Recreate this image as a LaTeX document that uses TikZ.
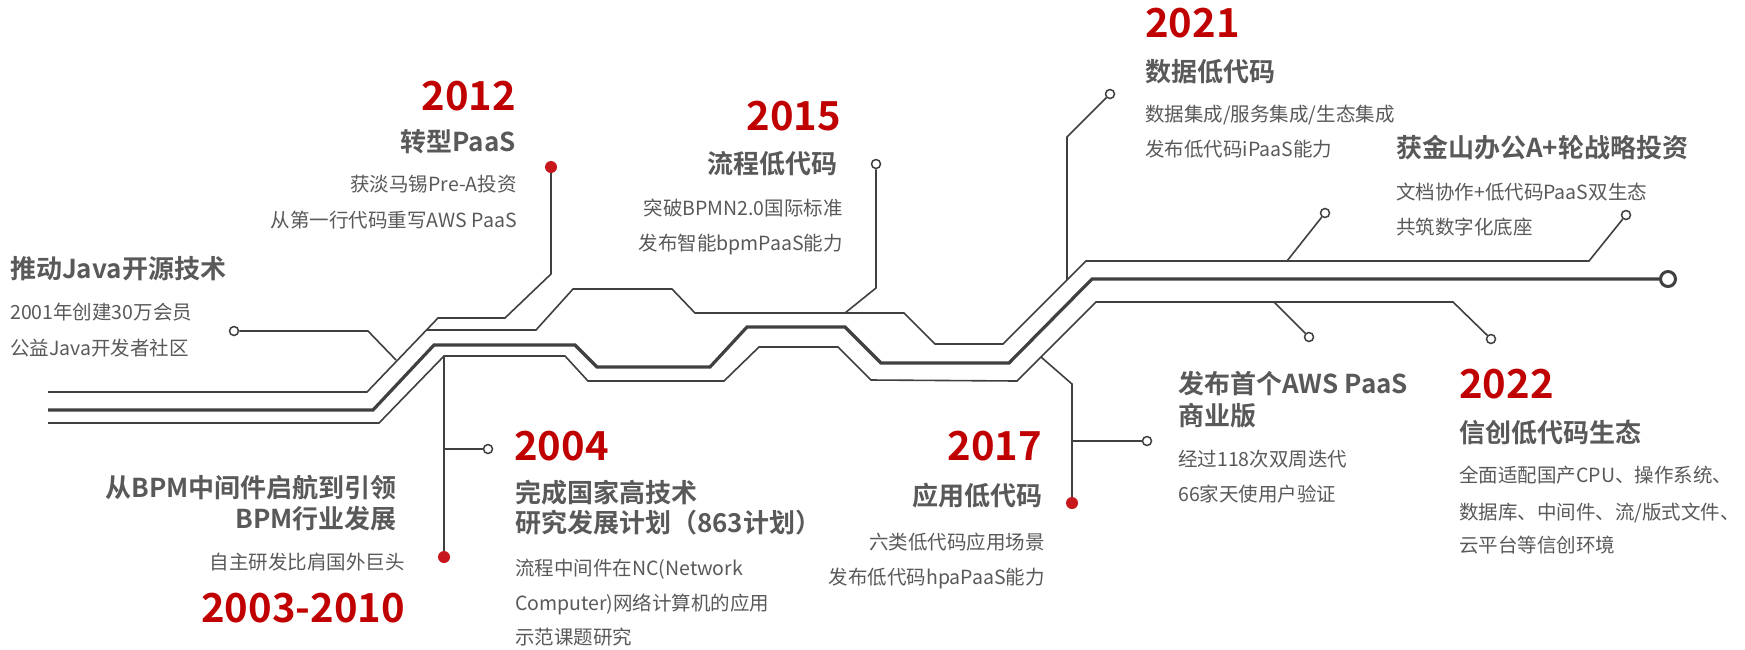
\documentclass[tikz,border=0pt]{standalone}
\usepackage{fontspec}
\setmainfont{Noto Sans CJK SC}[BoldFont={Noto Sans CJK SC Bold}]
\usepackage{xcolor}
\usepackage{tikz}
\usetikzlibrary{positioning}
\definecolor{tracegray}{RGB}{64,64,64}
\definecolor{textgray}{RGB}{89,89,89}
\definecolor{yearred}{RGB}{192,0,0}
\definecolor{dotred}{RGB}{200,22,29}

\begin{document}
\begin{tikzpicture}[
    x=1pt, y=-1pt,
    yeartext/.style={font=\bfseries\fontsize{40}{48}\selectfont, text=yearred, inner sep=0pt},
    headtext/.style={font=\bfseries\fontsize{26}{31}\selectfont, text=textgray, inner sep=0pt},
    subtext/.style={font=\fontsize{19.5}{24}\selectfont, text=textgray, inner sep=0pt},
    wire/.style={draw=tracegray, line width=1.6pt},
    mainwire/.style={draw=tracegray, line width=3.2pt},
    hole/.style={circle, draw=tracegray, line width=1.5pt, fill=white, minimum size=9pt, inner sep=0pt},
    endhole/.style={circle, draw=tracegray, line width=3pt, fill=white, minimum size=15pt, inner sep=0pt},
    reddot/.style={circle, fill=dotred, minimum size=12pt, inner sep=0pt}
]

% Canvas
\useasboundingbox (0,0) rectangle (1745,649);
\fill[white] (0,0) rectangle (1745,649);

% Pads and dots
\node[hole] (o2001) at (234,331) {};
\node[hole] (o2004) at (488,449) {};
\node[hole] (o2015) at (876,164) {};
\node[hole] (o2021) at (1110,94) {};
\node[hole] (oAws) at (1147,441) {};
\node[hole] (oKso1) at (1325,213) {};
\node[hole] (oKso2) at (1626,215) {};
\node[hole] (oLow1) at (1309,337) {};
\node[hole] (oLow2) at (1491,339) {};
\node[endhole] (oEnd) at (1668,279) {};
\node[reddot] (d2012) at (551,167) {};
\node[reddot] (d2003) at (444,557) {};
\node[reddot] (d2017) at (1072,503) {};

% Junctions on the traces
\coordinate (jJava) at (396,360);
\coordinate (jBranch) at (427,330);
\coordinate (j2003) at (444,356);
\coordinate (j2004) at (444,449);
\coordinate (j2015) at (845,313);
\coordinate (j2021) at (1067,280);
\coordinate (j2017) at (1041,357);
\coordinate (jAws) at (1072,441);
\coordinate (jKso) at (1287,261);
\coordinate (jLow) at (1274,302);

% Traces
\draw[wire] (48,392) -- (367,392) -- (438,318) -- (505,318) -- (551,274) -- (d2012);
\draw[wire] (jBranch) -- (536,330) -- (573,289) -- (672,289) -- (695,313) -- (904,313)
    -- (935,344) -- (1003,344) -- (1086,261) -- (1589,261) -- (oKso2);
\draw[mainwire] (48,410) -- (373,410) -- (434,345) -- (575,345) -- (597,367) -- (710,367)
    -- (747,327) -- (845,327) -- (881,363) -- (1009,363) -- (1092,279) -- (oEnd);
\draw[wire] (48,423) -- (379,423) -- (444,356) -- (565,356) -- (588,381) -- (724,381)
    -- (759,347) -- (838,347) -- (871,380) -- (1017,381) -- (1096,302) -- (1453,302) -- (oLow2);

% Leads
\draw[wire] (o2001) -- (368,331) -- (jJava);
\draw[wire] (j2003) -- (d2003);
\draw[wire] (j2004) -- (o2004);
\draw[wire] (o2015) -- (876,288) -- (j2015);
\draw[wire] (o2021) -- (1067,137) -- (j2021);
\draw[wire] (j2017) -- (1072,384) -- (d2017);
\draw[wire] (jAws) -- (oAws);
\draw[wire] (jKso) -- (oKso1);
\draw[wire] (jLow) -- (oLow1);

% 2012
\node[yeartext, anchor=base east] (y2012) at (516,110) {2012};
\node[headtext, anchor=base east] (t2012) at (516,151) {转型PaaS};
\node[subtext, anchor=base east] (s2012a) at (517,191) {获淡马锡Pre-A投资};
\node[subtext, anchor=base east] (s2012b) at (517,227) {从第一行代码重写AWS PaaS};

% 2015
\node[yeartext, anchor=base east] (y2015) at (841,130) {2015};
\node[headtext, anchor=base east] (t2015) at (838,173) {流程低代码};
\node[subtext, anchor=base east] (s2015a) at (843,215) {突破BPMN2.0国际标准};
\node[subtext, anchor=base east] (s2015b) at (843,250) {发布智能bpmPaaS能力};

% 2021
\node[yeartext, anchor=base west] (y2021) at (1145,37) {2021};
\node[headtext, anchor=base west] (t2021) at (1145,81) {数据低代码};
\node[subtext, anchor=base west] (s2021a) at (1145,121) {数据集成/服务集成/生态集成};
\node[subtext, anchor=base west] (s2021b) at (1145,156) {发布低代码iPaaS能力};

% Kingsoft round
\node[headtext, anchor=base west] (tKso) at (1396,157) {获金山办公A+轮战略投资};
\node[subtext, anchor=base west] (sKsoA) at (1396,199) {文档协作+低代码PaaS双生态};
\node[subtext, anchor=base west] (sKsoB) at (1396,234) {共筑数字化底座};

% Java
\node[headtext, anchor=base west] (tJava) at (10,278) {推动Java开源技术};
\node[subtext, anchor=base west] (sJavaA) at (10,319) {2001年创建30万会员};
\node[subtext, anchor=base west] (sJavaB) at (10,355) {公益Java开发者社区};

% 2003-2010
\node[headtext, anchor=base east] (t2003a) at (397,497) {从BPM中间件启航到引领};
\node[headtext, anchor=base east] (t2003b) at (397,528) {BPM行业发展};
\node[subtext, anchor=base east] (s2003) at (405,569) {自主研发比肩国外巨头};
\node[yeartext, anchor=base east] (y2003) at (405,622) {2003-2010};

% 2004
\node[yeartext, anchor=base west] (y2004) at (514,460) {2004};
\node[headtext, anchor=base west] (t2004a) at (515,502) {完成国家高技术};
\node[headtext, anchor=base west] (t2004b) at (515,532) {研究发展计划（863计划）};
\node[subtext, anchor=base west] (s2004a) at (515,575) {流程中间件在NC(Network};
\node[subtext, anchor=base west] (s2004b) at (515,610) {Computer)网络计算机的应用};
\node[subtext, anchor=base west] (s2004c) at (515,644) {示范课题研究};

% 2017
\node[yeartext, anchor=base east] (y2017) at (1042,460) {2017};
\node[headtext, anchor=base east] (t2017) at (1043,505) {应用低代码};
\node[subtext, anchor=base east] (s2017a) at (1045,549) {六类低代码应用场景};
\node[subtext, anchor=base east] (s2017b) at (1045,584) {发布低代码hpaPaaS能力};

% AWS PaaS
\node[headtext, anchor=base west] (tAwsA) at (1178,393) {发布首个AWS PaaS};
\node[headtext, anchor=base west] (tAwsB) at (1178,425) {商业版};
\node[subtext, anchor=base west] (sAwsA) at (1178,466) {经过118次双周迭代};
\node[subtext, anchor=base west] (sAwsB) at (1178,501) {66家天使用户验证};

% 2022
\node[yeartext, anchor=base west] (y2022) at (1459,398) {2022};
\node[headtext, anchor=base west] (t2022) at (1459,442) {信创低代码生态};
\node[subtext, anchor=base west] (s2022a) at (1459,482) {全面适配国产CPU、操作系统、};
\node[subtext, anchor=base west] (s2022b) at (1459,519) {数据库、中间件、流/版式文件、};
\node[subtext, anchor=base west] (s2022c) at (1459,552) {云平台等信创环境};

\end{tikzpicture}
\end{document}
